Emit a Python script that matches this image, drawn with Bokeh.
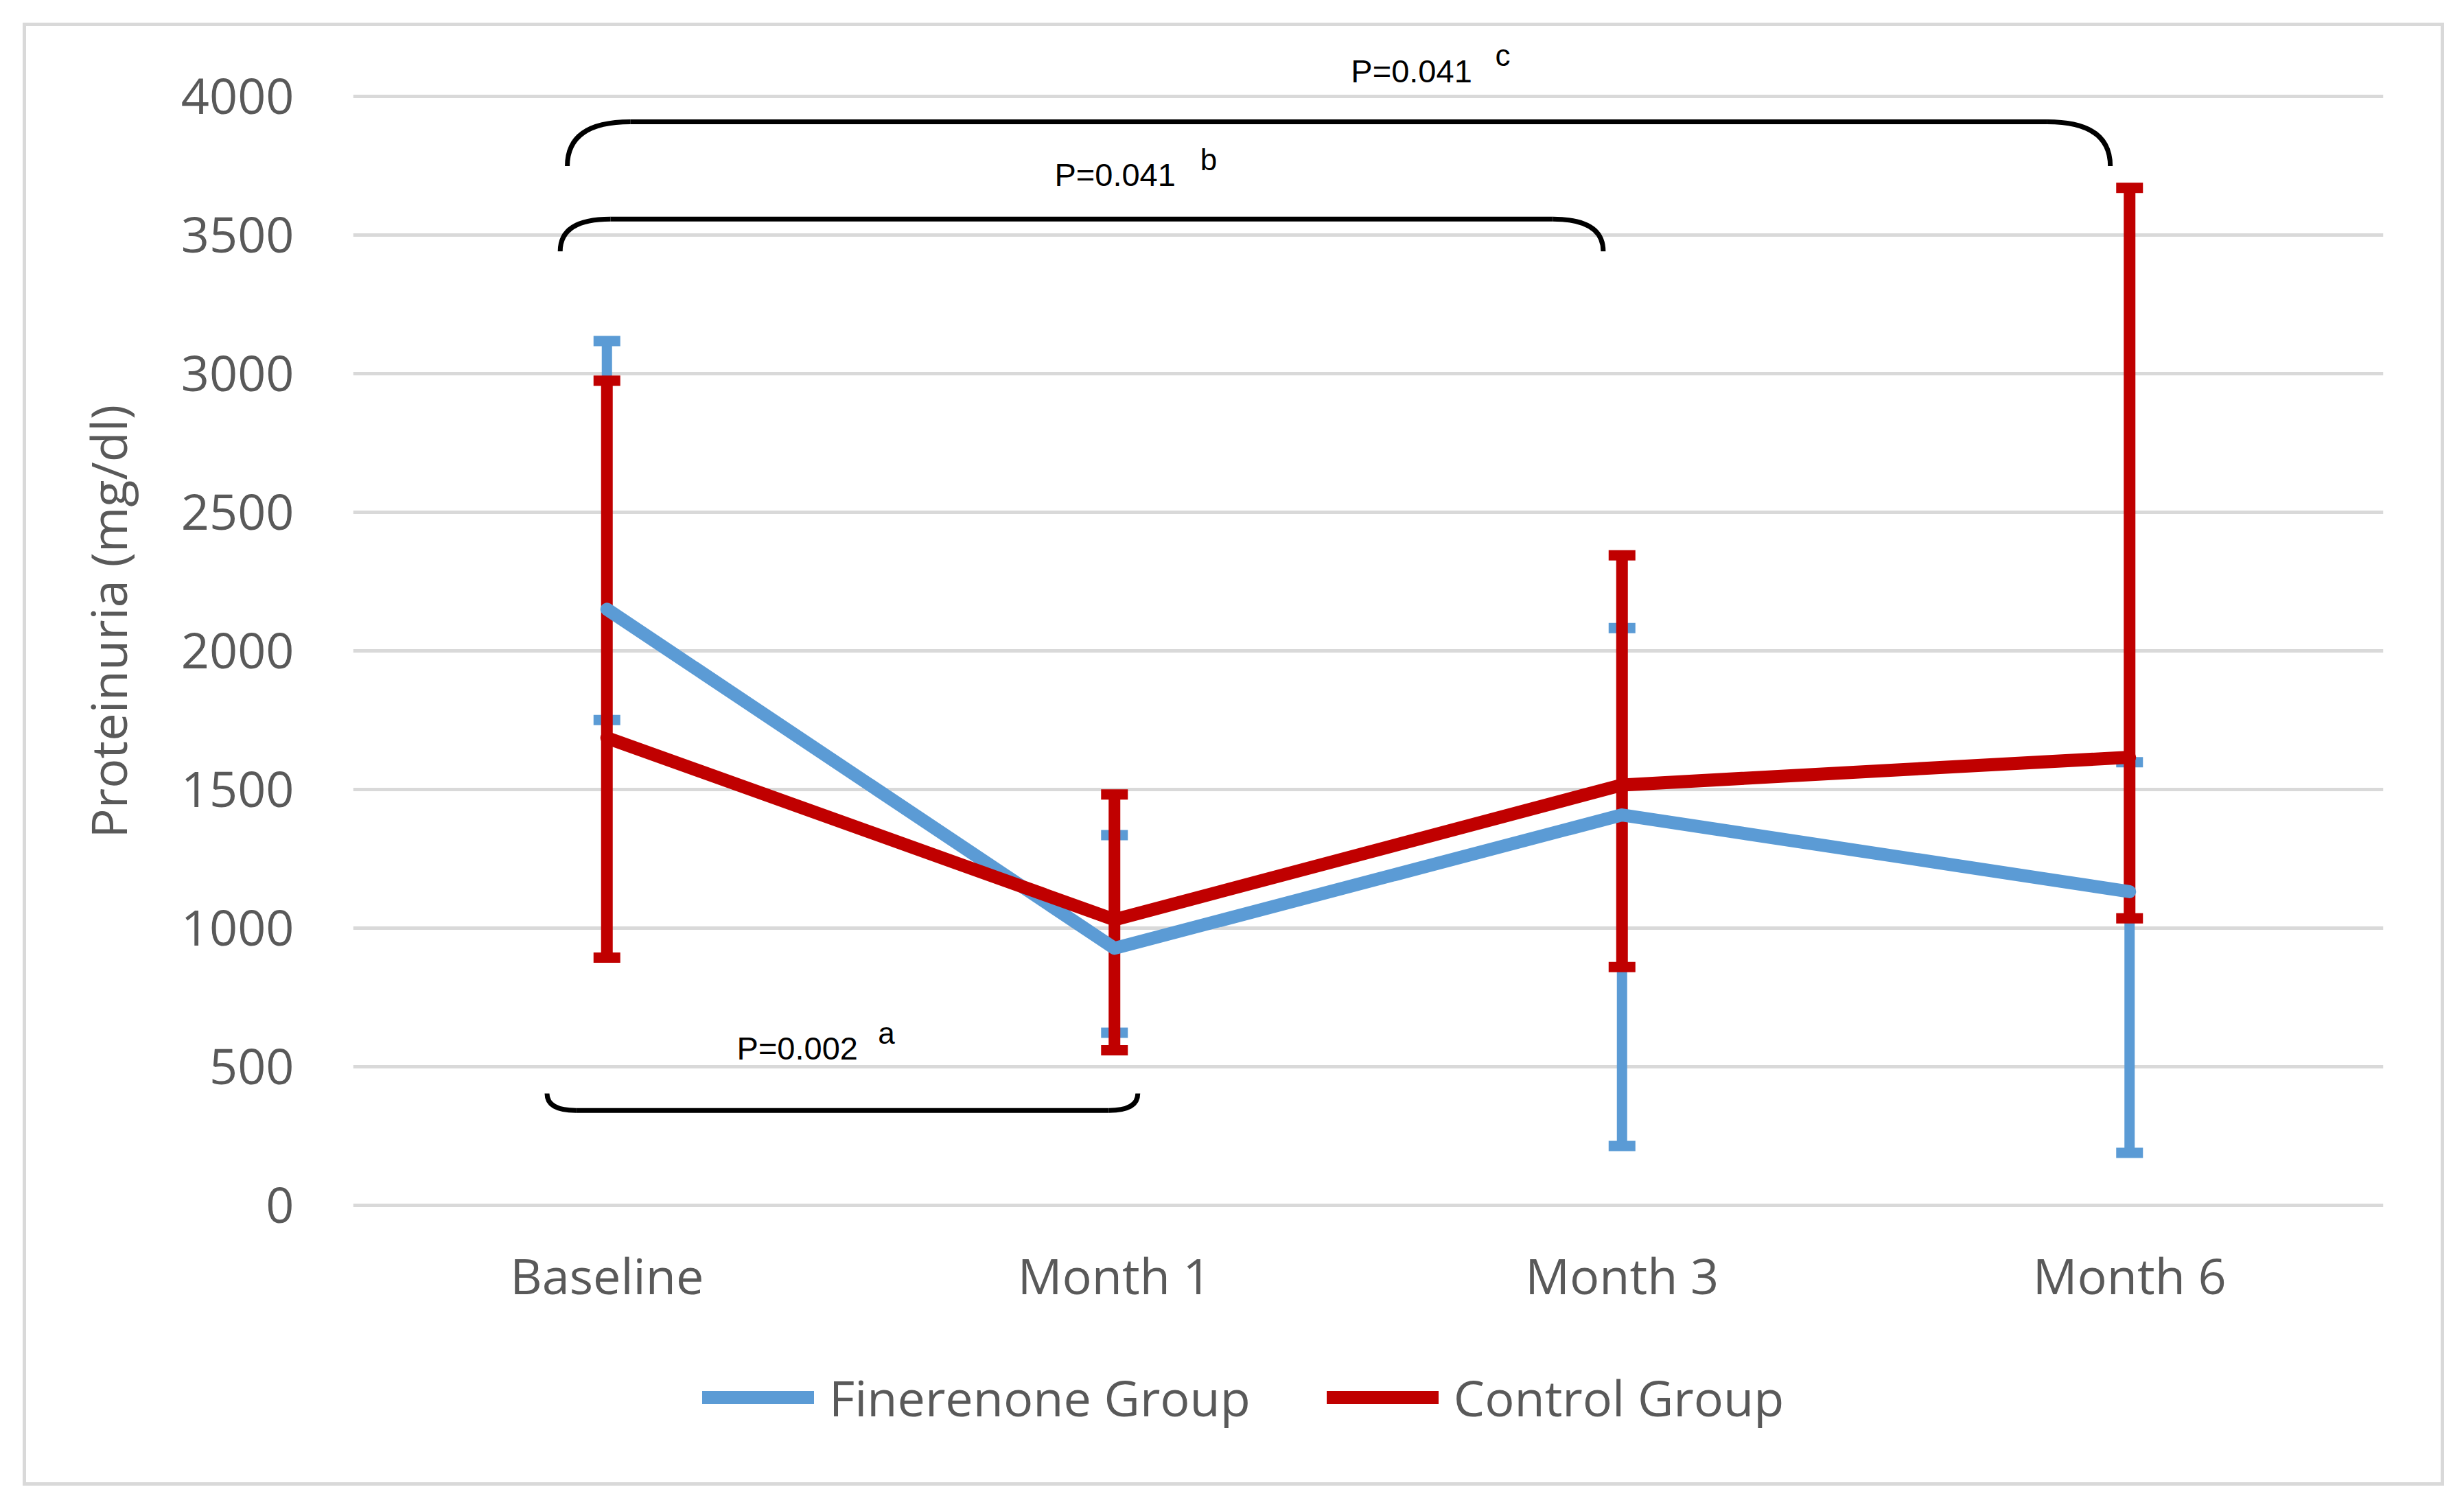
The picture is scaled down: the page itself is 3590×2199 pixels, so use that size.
from bokeh.plotting import figure
from bokeh.models import (FactorRange, Range1d, FixedTicker, Legend, LegendItem,
                          ColumnDataSource, Title)
from bokeh.embed import file_html
from bokeh.resources import INLINE
from bokeh.core.properties import value

# ---------------- data ----------------
categories = ["Baseline", "Month 1", "Month 3", "Month 6"]

fin_mean = [2150, 927, 1408, 1131]
fin_upper = [3117, 1335, 2082, 1598]
fin_lower = [1750, 622, 214, 189]

ctl_mean = [1686, 1030, 1516, 1616]
ctl_upper = [2974, 1482, 2344, 3670]
ctl_lower = [893, 559, 859, 1035]

y_ticks = [0, 500, 1000, 1500, 2000, 2500, 3000, 3500, 4000]

series_names = ["Finerenone Group", "Control Group"]
y_title = "Proteinuria (mg/dl)"

# significance brackets (from category, to category, p text, superscript)
bracket_from = ["Baseline", "Baseline", "Baseline"]
bracket_to = ["Month 1", "Month 3", "Month 6"]
bracket_p = ["P=0.002", "P=0.041", "P=0.041"]
bracket_sup = ["a", "b", "c"]
bracket_end_y = [403, 3441, 3748]
bracket_line_y = [342, 3557, 3908]
bracket_from_off = [-0.118, -0.092, -0.078]
bracket_to_off = [0.046, -0.037, -0.038]
bracket_corner = [0.057, 0.099, 0.124]
ptext_x = [0.756, 1.382, 1.966]
ptext_y = [567, 3718, 4092]
sup_x = [1.034, 1.669, 2.250]
sup_y = [622, 3773, 4149]

BLUE = "#5B9BD5"
RED = "#C00000"
GREY_TXT = "#595959"
GRID = "#D9D9D9"


def cat_x(name, off):
    return categories.index(name) + 0.5 + off


p = figure(
    width=3528, height=2132,
    x_range=FactorRange(factors=categories),
    y_range=Range1d(-1025, 4252),
    output_backend="svg", toolbar_location=None,
    min_border_left=476, min_border_right=94,
    min_border_top=0, min_border_bottom=0,
)
p.styles = {"border": "5px solid #D9D9D9"}
p.margin = (33, 0, 0, 33)
p.outline_line_color = None
p.background_fill_color = "white"
p.border_fill_color = "white"

# grid
p.xgrid.visible = False
p.ygrid.grid_line_color = GRID
p.ygrid.grid_line_width = 5

# axes
p.yaxis.ticker = FixedTicker(ticks=y_ticks)
p.xaxis.fixed_location = 0
for ax in (p.xaxis[0], p.yaxis[0]):
    ax.axis_line_color = None
    ax.major_tick_line_color = None
    ax.minor_tick_line_color = None
    ax.major_label_text_font = "Open Sans"
    ax.major_label_text_font_size = "72px"
    ax.major_label_text_color = GREY_TXT
p.yaxis.major_label_standoff = 80
p.xaxis.major_label_standoff = 47

# y-axis title, centred on the 0-4000 part of the axis
p.add_layout(Title(text=y_title, align="left", offset=949, standoff=109,
                   text_font="Open Sans", text_font_size="72px",
                   text_font_style="normal", text_color=GREY_TXT), "left")

src = ColumnDataSource(dict(
    cat=categories,
    fin_mean=fin_mean, fin_upper=fin_upper, fin_lower=fin_lower,
    ctl_mean=ctl_mean, ctl_upper=ctl_upper, ctl_lower=ctl_lower,
))

# error bars: finerenone
p.segment(x0="cat", y0="fin_lower", x1="cat", y1="fin_upper", source=src,
          line_color=BLUE, line_width=15)
p.rect(x="cat", y="fin_upper", width=39, height=15, width_units="screen",
       height_units="screen", source=src, fill_color=BLUE, line_color=None)
p.rect(x="cat", y="fin_lower", width=39, height=15, width_units="screen",
       height_units="screen", source=src, fill_color=BLUE, line_color=None)
# error bars: control
p.segment(x0="cat", y0="ctl_lower", x1="cat", y1="ctl_upper", source=src,
          line_color=RED, line_width=17)
p.rect(x="cat", y="ctl_upper", width=39, height=15, width_units="screen",
       height_units="screen", source=src, fill_color=RED, line_color=None)
p.rect(x="cat", y="ctl_lower", width=39, height=15, width_units="screen",
       height_units="screen", source=src, fill_color=RED, line_color=None)

# lines
l1 = p.line(x="cat", y="fin_mean", source=src, line_color=BLUE, line_width=19,
            line_cap="round", line_join="round")
l2 = p.line(x="cat", y="ctl_mean", source=src, line_color=RED, line_width=19,
            line_cap="round", line_join="round")

# brackets
bx0, by0, bx1, by1 = [], [], [], []
qx0, qy0, qx1, qy1, qcx, qcy = [], [], [], [], [], []
for f, t, fo, to, ey, ly, c in zip(bracket_from, bracket_to, bracket_from_off,
                                    bracket_to_off, bracket_end_y, bracket_line_y,
                                    bracket_corner):
    left = cat_x(f, fo)
    right = cat_x(t, to)
    bx0.append(left + c); bx1.append(right - c); by0.append(ly); by1.append(ly)
    qx0 += [left, right]; qy0 += [ey, ey]
    qx1 += [left + c, right - c]; qy1 += [ly, ly]
    qcx += [left, right]; qcy += [ly, ly]
p.segment(x0=bx0, y0=by0, x1=bx1, y1=by1, line_color="black", line_width=7)
p.quadratic(x0=qx0, y0=qy0, x1=qx1, y1=qy1, cx=qcx, cy=qcy,
            line_color="black", line_width=7)
p.text(x=ptext_x, y=ptext_y, text=bracket_p, text_font=value("Liberation Sans"),
       text_font_size="47px", text_color="black", text_align="left",
       text_baseline="alphabetic")
p.text(x=sup_x, y=sup_y, text=bracket_sup, text_font=value("Liberation Sans"),
       text_font_size="44px", text_color="black", text_align="left",
       text_baseline="alphabetic")

legend = Legend(
    items=[LegendItem(label=series_names[0], renderers=[l1]),
           LegendItem(label=series_names[1], renderers=[l2])],
    orientation="horizontal", location=(509, 85),
    glyph_width=163, glyph_height=40, label_standoff=22, spacing=111,
    padding=0, margin=0, border_line_color=None, background_fill_alpha=0,
    label_text_font="Open Sans", label_text_font_size="72px",
    label_text_color=GREY_TXT,
)
p.add_layout(legend, "center")

open("out.html", "w").write(file_html(p, INLINE))
